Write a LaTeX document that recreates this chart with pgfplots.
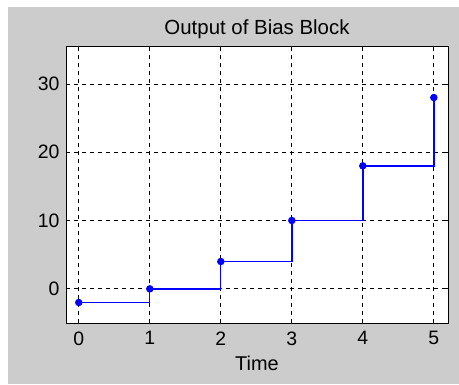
\documentclass[border=0pt]{standalone}
\usepackage{pgfplots}
\pgfplotsset{compat=1.18}
\usepackage{fontspec}
\setmainfont{Liberation Sans}
\definecolor{figgray}{RGB}{204,204,204}

\begin{document}
\begin{tikzpicture}[x=1bp,y=1bp]
% figure background
\fill[white] (0,0) rectangle (459,384);
\fill[figgray] (8,0) rectangle (459,377);
\begin{axis}[
    at={(66bp,61bp)}, anchor=south west,
    scale only axis,
    width=382bp, height=276bp,
    xmin=-0.18, xmax=5.2,
    ymin=-5, ymax=35.4,
    xtick={0,1,2,3,4,5},
    ytick={0,10,20,30},
    axis background/.style={fill=white},
    axis line style={black, line width=1pt},
    tick style={black, line width=0.7pt},
    tick align=inside,
    major tick length=4bp,
    grid=major,
    major grid style={black, dash pattern=on 4bp off 4bp, line width=0.7pt},
    title={Output of Bias Block},
    title style={font=\fontsize{20.5}{22}\selectfont, yshift=-1bp},
    xlabel={Time},
    xlabel style={font=\fontsize{20}{22}\selectfont, yshift=-4bp},
    tick label style={font=\fontsize{19.5}{21}\selectfont},
    xticklabel style={yshift=-5bp},
    yticklabel style={xshift=-3bp},
    /pgf/number format/assume math mode=true,
    ]
    \addplot[const plot mark left, color=blue, line width=1.4pt,
        mark=*, mark size=3bp, mark options={fill=blue}]
    coordinates {
        (0,-2) (1,0) (2,4) (3,10) (4,18) (5,28)
    };
\end{axis}
\end{tikzpicture}
\end{document}
